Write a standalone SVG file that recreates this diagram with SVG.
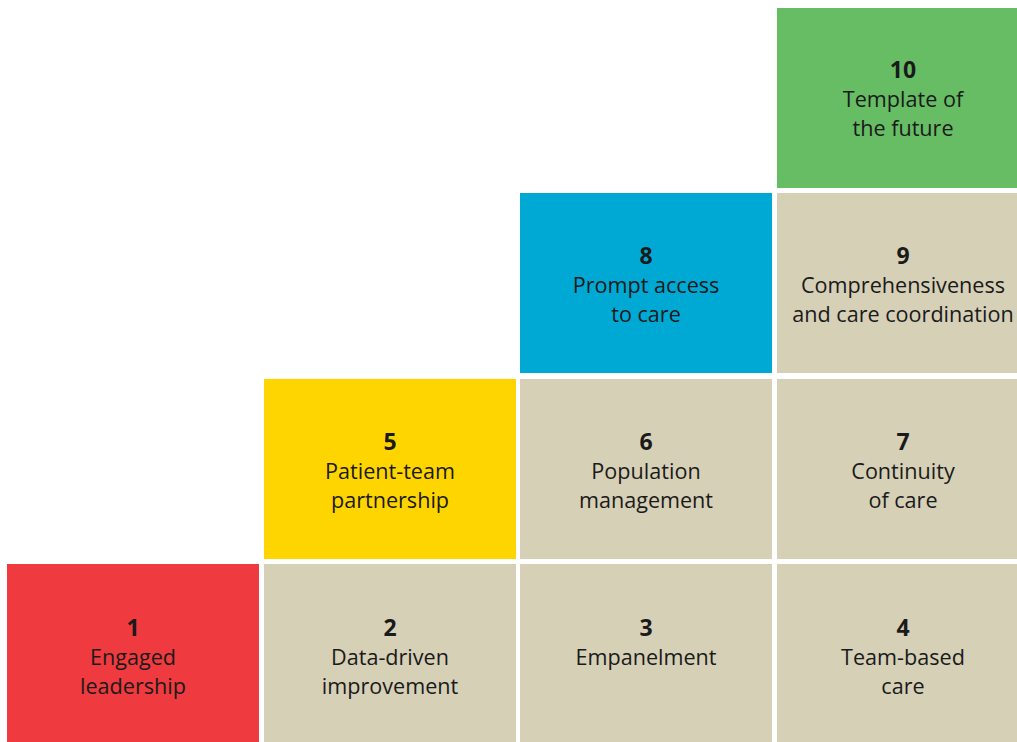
<svg xmlns="http://www.w3.org/2000/svg" width="1017" height="742" viewBox="0 0 1017 742">
<style>
.t{font-family:"Open Sans","Noto Sans","Liberation Sans",sans-serif;font-size:21.6px;fill:#1a1a1a;text-anchor:middle}
.n{font-weight:bold;font-size:23px}
.beige{fill:#D6D0B7}
</style>
<rect width="1017" height="742" fill="#ffffff"/>
<g id="node1"><rect x="7" y="564" width="252" height="180" fill="#EF3B3F"/><text class="t n" x="133" y="636">1</text><text class="t" x="133" y="665">Engaged</text><text class="t" x="133" y="694">leadership</text></g>
<g id="node2"><rect class="beige" x="264" y="564" width="252" height="180"/><text class="t n" x="390" y="636">2</text><text class="t" x="390" y="665">Data-driven</text><text class="t" x="390" y="694">improvement</text></g>
<g id="node3"><rect class="beige" x="520" y="564" width="252" height="180"/><text class="t n" x="646" y="636">3</text><text class="t" x="646" y="665">Empanelment</text></g>
<g id="node4"><rect class="beige" x="777" y="564" width="252" height="180"/><text class="t n" x="903" y="636">4</text><text class="t" x="903" y="665">Team-based</text><text class="t" x="903" y="694">care</text></g>
<g id="node5"><rect x="264" y="379" width="252" height="180" fill="#FFD500"/><text class="t n" x="390" y="450">5</text><text class="t" x="390" y="479">Patient-team</text><text class="t" x="390" y="508">partnership</text></g>
<g id="node6"><rect class="beige" x="520" y="379" width="252" height="180"/><text class="t n" x="646" y="450">6</text><text class="t" x="646" y="479">Population</text><text class="t" x="646" y="508">management</text></g>
<g id="node7"><rect class="beige" x="777" y="379" width="252" height="180"/><text class="t n" x="903" y="450">7</text><text class="t" x="903" y="479">Continuity</text><text class="t" x="903" y="508">of care</text></g>
<g id="node8"><rect x="520" y="193" width="252" height="180" fill="#00A9D4"/><text class="t n" x="646" y="264">8</text><text class="t" x="646" y="293">Prompt access</text><text class="t" x="646" y="322">to care</text></g>
<g id="node9"><rect class="beige" x="777" y="193" width="252" height="180"/><text class="t n" x="903" y="264">9</text><text class="t" x="903" y="293">Comprehensiveness</text><text class="t" x="903" y="322">and care coordination</text></g>
<g id="node10"><rect x="777" y="8" width="252" height="180" fill="#66BD63"/><text class="t n" x="903" y="78">10</text><text class="t" x="903" y="107">Template of</text><text class="t" x="903" y="136">the future</text></g>
<g id="connectors"></g>
</svg>
